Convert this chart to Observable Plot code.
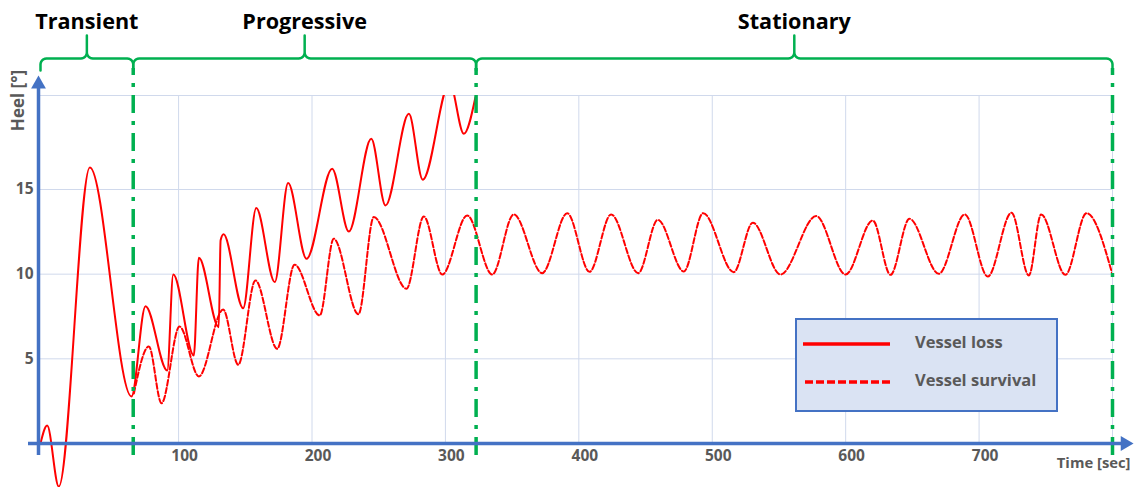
<!DOCTYPE html>
<html><head><meta charset="utf-8">
<script src="https://cdn.jsdelivr.net/npm/d3@7"></script>
<script src="https://cdn.jsdelivr.net/npm/@observablehq/plot@0.6"></script>
<style>
html,body{margin:0;padding:0;background:#fff;}
#wrap{position:relative;width:1136px;height:487px;overflow:hidden;font-family:"Open Sans",sans-serif;}
#legend{position:absolute;left:795px;top:318px;width:259px;height:90px;background:#dae3f3;border:2px solid #4472c4;}
</style></head><body>
<div id="wrap"><div id="chart"></div><div id="legend"></div></div>
<script>
// ---- data ----
const lossT = [-3.5, 1.5, 10.2, 33.5, 64.7, 75.2, 91.5, 96.0, 111.4, 115.2, 130.1, 131.5, 133.7, 148.4, 158.2, 172.1, 182.1, 195.9, 215.1, 227.6, 244.4, 255.1, 272.6, 283.0, 303.2, 313.8, 322.5];
const lossV = [0, 1.06, -2.54, 16.3, 2.78, 8.11, 4.31, 9.98, 5.2, 10.97, 6.87, 12.0, 12.35, 7.99, 13.9, 9.53, 15.38, 10.91, 16.23, 12.52, 18.0, 14.06, 19.47, 15.58, 21.3, 18.29, 20.45];
const survT = [66.5, 77.7, 87.2, 100.7, 115.2, 133.4, 144.7, 157.6, 173.9, 186.9, 205.8, 216.3, 234.8, 246.3, 270.8, 283.8, 297.6, 316.3, 335.1, 351.2, 372.5, 391.3, 408.0, 424.2, 444.5, 459.2, 478.7, 493.2, 516.1, 530.4, 551.1, 577.9, 599.9, 620.3, 633.6, 647.8, 669.8, 689.3, 706.5, 724.3, 737.3, 746.5, 764.7, 780.5, 799.8];
const survV = [2.95, 5.73, 2.38, 6.91, 3.96, 7.91, 4.65, 9.63, 5.59, 10.56, 7.56, 12.09, 7.63, 13.37, 9.14, 13.41, 9.98, 13.47, 9.98, 13.53, 10.06, 13.6, 10.14, 13.53, 10.06, 13.21, 10.16, 13.6, 10.12, 13.04, 9.98, 13.43, 9.98, 13.17, 9.96, 13.27, 10.02, 13.53, 9.86, 13.63, 9.92, 13.53, 9.96, 13.6, 10.02];
const phaseNames = ["Transient", "Progressive", "Stationary"];
const phaseBounds = [-3.5, 66, 323, 800];
const xTicks = [100, 200, 300, 400, 500, 600, 700];
const yTicks = [5, 10, 15];
const seriesNames = ["Vessel loss", "Vessel survival"];
const xTitle = "Time [sec]";
const yTitle = "Heel [°]";

// ---- scales ----
const X_DOMAIN = [-5, 800], X_RANGE = [38, 1112];
const Y_DOMAIN = [0, 20.55], Y_RANGE = [443, 95];
const xS = d3.scaleLinear(X_DOMAIN, X_RANGE);
const yS = d3.scaleLinear(Y_DOMAIN, Y_RANGE);

const loss = lossT.map((t, i) => ({t, v: lossV[i]}));
const surv = survT.map((t, i) => ({t, v: survV[i]}));
const phases = phaseNames.map((name, i) => ({name, t0: phaseBounds[i], t1: phaseBounds[i + 1], mid: (phaseBounds[i] + phaseBounds[i + 1]) / 2}));

// brace geometry (built in pixel space, converted back to data space)
const Y_H = 58, Y_END = 70, Y_TIP = 35, R = 6;
function arc(cx, cy, r, a0, a1, n = 6) {
  const out = [];
  for (let k = 0; k <= n; k++) { const a = a0 + (a1 - a0) * k / n; out.push([cx + r * Math.cos(a), cy + r * Math.sin(a)]); }
  return out;
}
const braces = [];
phases.forEach(p => {
  const x0 = xS(p.t0), x1 = xS(p.t1), xm = (x0 + x1) / 2;
  const pts = [[x0, Y_END]];
  pts.push(...arc(x0 + R, Y_H + R, R, Math.PI, 1.5 * Math.PI));
  pts.push(...arc(xm - R, Y_H - R, R, 0.5 * Math.PI, 0));
  pts.push([xm, Y_TIP]);
  pts.push(...arc(xm + R, Y_H - R, R, Math.PI, 0.5 * Math.PI));
  pts.push(...arc(x1 - R, Y_H + R, R, 1.5 * Math.PI, 2 * Math.PI));
  pts.push([x1, Y_END]);
  pts.forEach(([px, py]) => braces.push({phase: p.name, t: xS.invert(px), v: yS.invert(py)}));
});

const GRAY = "#595959", BLUE = "#4472c4", GREEN = "#00b050", RED = "#ff0000", GRID = "#d0d9ec";
const FONT = '"Open Sans", sans-serif';

const chart = Plot.plot({
  width: 1136, height: 487,
  marginLeft: 38, marginRight: 24, marginTop: 95, marginBottom: 0,
  x: {domain: X_DOMAIN, range: X_RANGE, axis: null},
  y: {domain: Y_DOMAIN, range: Y_RANGE, axis: null},
  style: {fontFamily: FONT, background: "#fff", overflow: "visible"},
  marks: [
    Plot.ruleX([...xTicks, X_DOMAIN[1]], {y1: Y_DOMAIN[0], y2: Y_DOMAIN[1], stroke: GRID, strokeWidth: 1}),
    Plot.ruleY([...yTicks, Y_DOMAIN[1]], {x1: X_DOMAIN[0], x2: X_DOMAIN[1], stroke: GRID, strokeWidth: 1}),
    Plot.line(loss, {x: "t", y: "v", curve: "monotone-x", stroke: RED, strokeWidth: 2, clip: true}),
    Plot.line(surv, {x: "t", y: "v", curve: "monotone-x", stroke: RED, strokeWidth: 2, strokeDasharray: "5.5,2.5", clip: true}),
    Plot.ruleX(phaseBounds.slice(1), {y1: yS.invert(455), y2: yS.invert(Y_END - 2), stroke: GREEN, strokeWidth: 3.5, strokeDasharray: "18,8,4,8"}),
    Plot.line(braces, {x: "t", y: "v", z: "phase", stroke: GREEN, strokeWidth: 2.5, strokeLinejoin: "round"}),
    Plot.text(phases, {x: "mid", y: yS.invert(22), text: "name", fontSize: 21.6, fontWeight: "bold", fill: "#000"}),
    Plot.ruleY([0], {x1: xS.invert(28), x2: xS.invert(1122), stroke: BLUE, strokeWidth: 3.5}),
    Plot.ruleX([X_DOMAIN[0]], {y1: yS.invert(455), y2: yS.invert(86), stroke: BLUE, strokeWidth: 3.5}),
    Plot.dot([0], {x: xS.invert(1124.5), y: 0, symbol: "triangle", rotate: 90, r: 5.5, fill: BLUE, stroke: null}),
    Plot.dot([0], {x: X_DOMAIN[0], y: yS.invert(83.6), symbol: "triangle", rotate: 0, r: 5.5, fill: BLUE, stroke: null}),
    Plot.text(xTicks, {x: d => d, y: 0, dy: 13, dx: 6, text: d => String(d), fontSize: 15.5, fontWeight: "bold", fill: GRAY}),
    Plot.text(yTicks, {x: X_DOMAIN[0], y: d => d, dx: -5, textAnchor: "end", text: d => String(d), fontSize: 15.5, fontWeight: "bold", fill: GRAY}),
    Plot.text([xTitle], {x: X_DOMAIN[1], y: 0, dx: 18, dy: 20, textAnchor: "end", text: d => d, fontSize: 14.8, fontWeight: "bold", fill: GRAY}),
    Plot.text([yTitle], {x: X_DOMAIN[0], y: yS.invert(100), dx: -20, rotate: -90, text: d => d, fontSize: 17, fontWeight: "bold", fill: GRAY})
  ]
});
document.getElementById("chart").appendChild(chart);

// legend
const lg = d3.select("#legend").append("svg").attr("width", 259).attr("height", 90).style("display", "block");
const rows = [{y: 24, dash: null}, {y: 62, dash: "8,3"}];
seriesNames.forEach((name, i) => {
  lg.append("line").attr("x1", 6 + 2 * i).attr("x2", 93 + 2 * i).attr("y1", rows[i].y).attr("y2", rows[i].y)
    .attr("stroke", RED).attr("stroke-width", 3.5).attr("stroke-dasharray", rows[i].dash);
  lg.append("text").attr("x", 118).attr("y", rows[i].y).attr("dominant-baseline", "middle")
    .attr("font-family", FONT).attr("font-weight", "bold").attr("font-size", 16.5).attr("fill", GRAY).text(name);
});
</script>
</body></html>
